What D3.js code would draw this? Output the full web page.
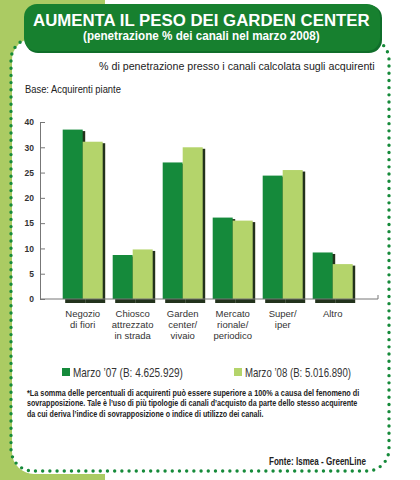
<!DOCTYPE html>
<html><head><meta charset="utf-8">
<script src="https://cdn.jsdelivr.net/npm/d3@7"></script>
<style>body{margin:0;background:#fff}svg{display:block}</style>
</head><body>
<script>
// ---- data ----
const categories = ["Negozio di fiori","Chiosco attrezzato in strada","Garden center/ vivaio","Mercato rionale/ periodico","Super/ iper","Altro"];
const categoryLines = [["Negozio","di fiori"],["Chiosco","attrezzato","in strada"],["Garden","center/","vivaio"],["Mercato","rionale/","periodico"],["Super/","iper"],["Altro"]];
const marzo07 = [33.5, 8.7, 27.0, 16.1, 24.4, 9.2];
const marzo08 = [31.1, 9.8, 30.0, 15.5, 25.5, 6.9];
const tickValues = [0,5,10,15,20,25,30,35];
const tickLabels = ["0","5","10","15","20","25","30","40"];
const seriesNames = ["Marzo \u201907 (B: 4.625.929)","Marzo \u201908 (B: 5.016.890)"];
const footnote = [
 "*La somma delle percentuali di acquirenti può essere superiore a 100% a causa del fenomeno di",
 "sovrapposizione. Tale è l\u2019uso di più tipologie di canali d\u2019acquisto da parte dello stesso acquirente",
 "da cui deriva l\u2019indice di sovrapposizione o indice di utilizzo dei canali."
];

const W=420,H=480;
const DARK="#158a3b", LIGHT="#b4d46b", BG="#abcb63", DOT="#168a3a";
const svg=d3.select("body").append("svg").attr("width",W).attr("height",H);
const defs=svg.append("defs");
const f=defs.append("filter").attr("id","sh").attr("x","-20%").attr("y","-20%").attr("width","150%").attr("height","150%");
f.append("feGaussianBlur").attr("stdDeviation",0.7);

const narrow="Liberation Sans Narrow, Liberation Sans, Arial, sans-serif";
const sans="Liberation Sans, Arial, sans-serif";

// text fitted horizontally to a target width by scaling (keeps glyph height)
function fitText(x0,y0,width,txt,opts){
  const g=svg.append("g");
  const t=g.append("text").attr("x",0).attr("y",0)
    .attr("font-family",opts.family).attr("font-size",opts.size)
    .attr("font-weight",opts.weight||"normal").attr("fill",opts.fill||"#222").text(txt);
  const w=t.node().getComputedTextLength();
  const sx=width/w;
  const left = opts.anchor==="end" ? x0-width : x0;
  g.attr("transform",`translate(${left},${y0}) scale(${sx},1)`);
  return t;
}

// background
svg.append("rect").attr("x",0).attr("y",0).attr("width",105).attr("height",H).attr("fill",BG);
svg.append("rect").attr("x",105).attr("y",0).attr("width",W-105).attr("height",H).attr("fill","#fff");
svg.append("rect").attr("x",12).attr("y",38).attr("width",400).attr("height",436).attr("rx",22).attr("fill","#fff");
// dotted border
svg.append("rect").attr("x",11).attr("y",38).attr("width",378).attr("height",433).attr("rx",22)
  .attr("fill","none").attr("stroke",DOT).attr("stroke-width",3.4).attr("stroke-linecap","round")
  .attr("stroke-dasharray","0 7.2");

// title box
svg.append("rect").attr("x",25).attr("y",5).attr("width",357).attr("height",48).attr("rx",13).attr("fill","#0f6e2a");
svg.append("rect").attr("x",24).attr("y",4).attr("width",356).attr("height",47).attr("rx",13).attr("fill","#17802f");
fitText(33,26,337,"AUMENTA IL PESO DEI GARDEN CENTER",{family:sans,size:17,weight:"bold",fill:"#fff"});
fitText(83,40,237,"(penetrazione % dei canali nel marzo 2008)",{family:narrow,size:12.5,weight:"bold",fill:"#fff"});

fitText(99,70,276,"% di penetrazione presso i canali calcolata sugli acquirenti",{family:narrow,size:11,fill:"#222"});
fitText(25,93,96,"Base: Acquirenti piante",{family:narrow,size:10,fill:"#222"});

// scales
const y=d3.scaleLinear().domain([0,35]).range([299,122]);
const x=d3.scaleBand().domain(categories).range([57.7,357.7]).paddingInner(0.2).paddingOuter(0.1);
const xs=d3.scaleBand().domain([0,1]).range([0,x.bandwidth()]);

// y axis
const ya=svg.append("g").attr("transform","translate(40,0)")
  .call(d3.axisLeft(y).tickValues(tickValues).tickSizeInner(-5).tickSizeOuter(0).tickPadding(6)
    .tickFormat((d,i)=>tickLabels[i]));
ya.select(".domain").attr("stroke","#777");
ya.selectAll(".tick line").attr("stroke","#777");
ya.selectAll("text").attr("font-family",narrow).attr("font-size",8.5).attr("font-weight","bold").attr("fill","#333");

// bars
const series=[marzo07,marzo08];
const colors=[DARK,LIGHT];
const g=svg.append("g");
categories.forEach((c,i)=>{
  [0,1].forEach(s=>{
    const v=series[s][i];
    const bx=x(c)+xs(s);
    g.append("rect").attr("x",bx+2.5).attr("y",y(v)+1.5).attr("width",xs.bandwidth()).attr("height",y(0)-y(v)+2.5)
      .attr("fill","#24301a").attr("filter","url(#sh)");
  });
  [0,1].forEach(s=>{
    const v=series[s][i];
    const bx=x(c)+xs(s);
    g.append("rect").attr("x",bx).attr("y",y(v)).attr("width",xs.bandwidth()).attr("height",y(0)-y(v))
      .attr("fill",colors[s]);
  });
});

// x axis line
svg.append("line").attr("x1",40).attr("x2",378).attr("y1",y(0)).attr("y2",y(0)).attr("stroke","#777");
svg.append("line").attr("x1",378).attr("x2",378).attr("y1",y(0)).attr("y2",y(0)-4).attr("stroke","#777");

// category labels
categories.forEach((c,i)=>{
  const t=svg.append("text").attr("text-anchor","middle").attr("font-family",narrow).attr("font-size",9.5).attr("fill","#333");
  categoryLines[i].forEach((ln,j)=>{
    t.append("tspan").attr("x",x(c)+x.bandwidth()/2).attr("y",317+j*10.8).text(ln);
  });
});

// legend
const legX=[62,234], legW=[110,106];
seriesNames.forEach((n,i)=>{
  svg.append("rect").attr("x",legX[i]).attr("y",368).attr("width",8).attr("height",8).attr("fill",colors[i]);
  fitText(legX[i]+11,376.5,legW[i],n,{family:sans,size:12,fill:"#333"});
});

// footnote
const fnW=[333,331,237];
footnote.forEach((ln,i)=>{
  fitText(27,396+i*10.3,fnW[i],ln,{family:narrow,size:9,weight:"bold",fill:"#222"});
});
fitText(366,465,97,"Fonte: Ismea - GreenLine",{family:narrow,size:10.5,weight:"bold",fill:"#222",anchor:"end"});
</script>
</body></html>
